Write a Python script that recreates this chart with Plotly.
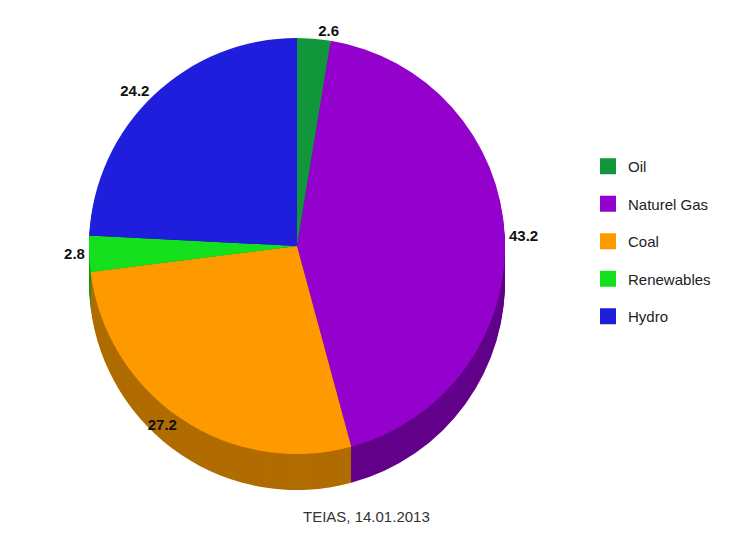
import plotly.graph_objects as go

# ---- data ----
labels = ["Oil", "Naturel Gas", "Coal", "Renewables", "Hydro"]
values = [2.6, 43.2, 27.2, 2.8, 24.2]
top_colors = ["#12963c", "#9400cc", "#ff9900", "#14e01e", "#1e1edc"]
side_colors = ["#0b6428", "#62008a", "#b06c00", "#0c9814", "#141496"]
caption = "TEIAS, 14.01.2013"

# ---- layout constants (screen pixels; page body has an 8px margin) ----
PAD = 8
W, H = 729 - 2 * PAD, 536 - 2 * PAD
cx, cy, r = 297 - PAD, 246 - PAD, 208
depth = 36
step = 2

fig = go.Figure()

def dom(offset):
    return dict(x=[(cx - r) / W, (cx + r) / W],
                y=[1 - (cy + offset + r) / H, 1 - (cy + offset - r) / H])

# side (extruded) layers, drawn from bottom upward
for off in range(depth, 0, -step):
    fig.add_trace(go.Pie(
        labels=labels, values=values, sort=False, direction="clockwise",
        marker=dict(colors=side_colors, line=dict(width=0)),
        textinfo="none", hoverinfo="skip", showlegend=False,
        domain=dom(off),
    ))

# top face
fig.add_trace(go.Pie(
    labels=labels, values=values, sort=False, direction="clockwise",
    marker=dict(colors=top_colors, line=dict(width=0)),
    textposition="outside", texttemplate="%{value}",
    outsidetextfont=dict(family="Liberation Sans, Arial", size=15, color="#111111", weight="bold"),
    showlegend=False, domain=dom(0),
))

# legend entries
for lab, col in zip(labels, top_colors):
    fig.add_trace(go.Scatter(
        x=[None], y=[None], mode="markers", name=lab, legendgroup=lab,
        marker=dict(symbol="square", size=16, color=col),
    ))

fig.update_layout(
    width=W, height=H,
    margin=dict(l=0, r=0, t=0, b=0),
    paper_bgcolor="white", plot_bgcolor="white",
    xaxis=dict(visible=False), yaxis=dict(visible=False),
    showlegend=True,
    legend=dict(x=(588 - PAD) / W, y=1 - (150 - PAD) / H, xanchor="left", yanchor="top",
                font=dict(family="Liberation Sans, Arial", size=15, color="#222222"),
                tracegroupgap=15, itemclick=False, itemdoubleclick=False,
                bgcolor="rgba(0,0,0,0)"),
    annotations=[dict(text=caption, x=(367 - PAD) / W, y=1 - (516 - PAD) / H,
                      xref="paper", yref="paper",
                      showarrow=False, xanchor="center", yanchor="middle",
                      font=dict(family="Liberation Sans, Arial", size=15, color="#333333"))],
)

fig.write_html("out.html")
